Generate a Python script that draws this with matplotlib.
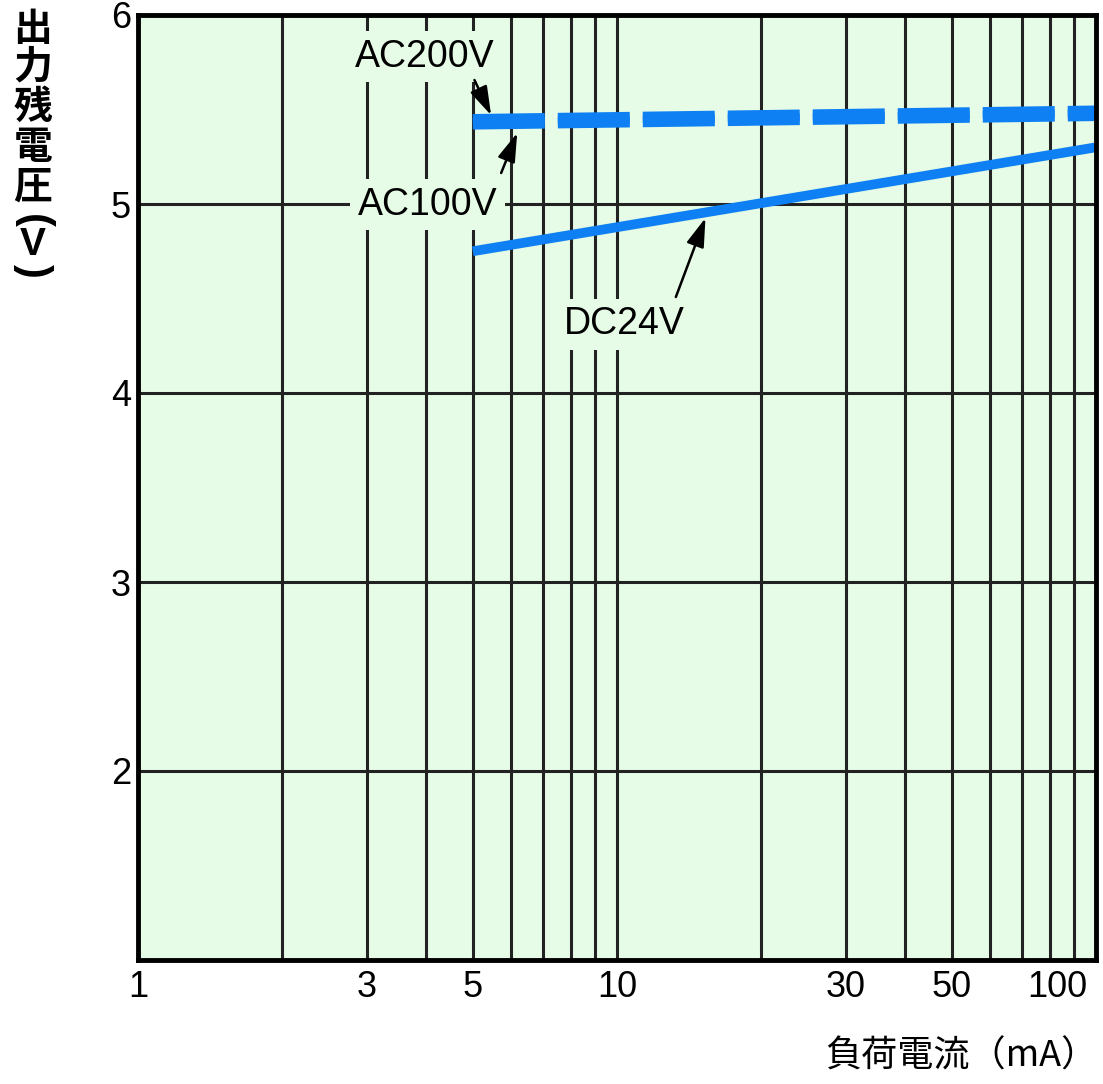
import matplotlib
matplotlib.use("Agg")
import matplotlib.pyplot as plt
import matplotlib.ticker as mticker
import matplotlib.transforms as mtrans
import numpy as np

plt.rcParams['font.family'] = ['Liberation Sans', 'Noto Sans CJK JP', 'DejaVu Sans']

# data
current = [5, 100]                      # mA
ac200v = [5.445, 5.49]
ac100v = [5.425, 5.47]
dc24v = [4.75, 5.30]

xticks = [1, 3, 5, 10, 30, 50, 100]
xticklabels = ['1', '3', '5', '10', '30', '50', '100']
yticks = [2, 3, 4, 5, 6]

bg = '#E6FCE6'
blue = '#0E80F4'

W, H = 1103, 1084
fig = plt.figure(figsize=(W / 100, H / 100), dpi=100)
ax = fig.add_axes([138 / W, 1 - 960 / H, (1096 - 138) / W, (960 - 15) / H])
ax.set_facecolor(bg)

ax.set_xscale('log')
ax.set_xlim(1, 100)
ax.set_ylim(1, 6)

ax.xaxis.set_major_locator(mticker.FixedLocator(xticks))
ax.xaxis.set_major_formatter(mticker.FixedFormatter(xticklabels))
ax.xaxis.set_minor_locator(mticker.LogLocator(base=10, subs=np.arange(2, 10)))
ax.xaxis.set_minor_formatter(mticker.NullFormatter())
ax.set_yticks(yticks)
ax.yaxis.set_major_formatter(mticker.FormatStrFormatter('%d'))

ax.grid(True, which='both', axis='x', color='#222222', lw=2.2, zorder=1)
ax.grid(True, which='major', axis='y', color='#222222', lw=2.2, zorder=1)
ax.set_axisbelow(True)

ax.tick_params(axis='both', which='both', length=0, labelsize=26, colors='black')
ax.tick_params(axis='x', pad=7)
ax.tick_params(axis='y', pad=5)

for sp in ax.spines.values():
    sp.set_linewidth(3.5)
    sp.set_color('black')
    sp.set_zorder(5)

# shift the "100" label inside like the reference
for lbl in ax.get_xticklabels():
    if lbl.get_text() == '100':
        lbl.set_horizontalalignment('right')
        lbl.set_transform(lbl.get_transform() + mtrans.ScaledTranslation(-6 / 72, 0, fig.dpi_scale_trans))

# curves
lw_dash = 8.5
on_px, off_px = 72, 13
dash = (0, ((on_px * 0.72) / lw_dash, (off_px * 0.72) / lw_dash))
ax.plot(current, ac200v, color=blue, lw=lw_dash, ls=dash, dash_capstyle='butt', zorder=3)
ax.plot(current, ac100v, color=blue, lw=lw_dash, ls=dash, dash_capstyle='butt', zorder=3)
ax.plot(current, dc24v, color=blue, lw=7, solid_capstyle='butt', zorder=3)

# labels with arrows
box = dict(boxstyle='square,pad=0.2', fc=bg, ec='none')
ax.text(3.96, 5.78, 'AC200V', fontsize=27, ha='center', va='center', bbox=box, zorder=4)
ax.text(4.02, 4.995, 'AC100V', fontsize=27, ha='center', va='center', bbox=box, zorder=4)
ax.text(10.34, 4.365, 'DC24V', fontsize=27, ha='center', va='center', bbox=box, zorder=4)

arrow = dict(arrowstyle='-|>,head_length=0.8,head_width=0.25', color='black', lw=1.8,
             shrinkA=0, shrinkB=0, mutation_scale=22)
ax.annotate('', xy=(5.46, 5.47), xytext=(5.04, 5.656), arrowprops=arrow, zorder=4)
ax.annotate('', xy=(6.19, 5.376), xytext=(5.73, 5.164), arrowprops=arrow, zorder=4)
ax.annotate('', xy=(15.3, 4.926), xytext=(13.27, 4.508), arrowprops=arrow, zorder=4)

# vertical y label, one character per line (parentheses turned for vertical writing)
ychars = ['出', '力', '残', '電', '圧', '(', 'V', ')']
ypos = [29, 67, 107, 147, 187, 221, 245, 271]
yrot = [0, 0, 0, 0, 0, -90, 0, -90]
ysize = [28, 28, 28, 28, 28, 30, 28, 30]
for ch, py, rot, fs in zip(ychars, ypos, yrot, ysize):
    fam = ['Liberation Sans', 'DejaVu Sans'] if ch in '()V' else ['Noto Sans CJK JP', 'DejaVu Sans']
    fig.text(33 / W, 1 - py / H, ch, fontsize=fs, fontweight='bold', ha='center', va='center',
             rotation=rot, rotation_mode='anchor', family=fam)

fig.text(1097 / W, 1 - 1057 / H, '負荷電流（mA）', fontsize=26, ha='right', va='center',
         family=['Noto Sans CJK JP', 'DejaVu Sans'])

fig.savefig('out.png', dpi=100, facecolor='white')
